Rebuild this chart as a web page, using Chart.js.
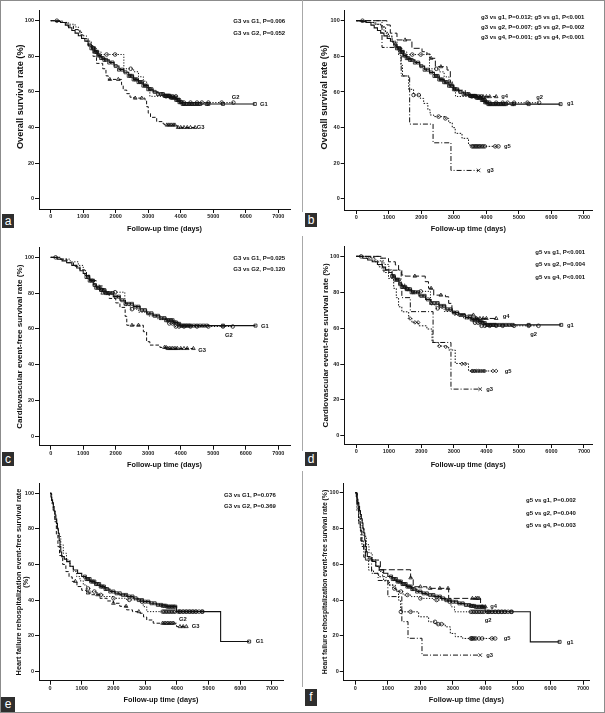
<!DOCTYPE html>
<html>
<head>
<meta charset="utf-8">
<script src="https://cdn.jsdelivr.net/npm/chart.js@4.4.1/dist/chart.umd.min.js"></script>
<style>
  body { margin: 0; background: #fff; }
  #fig { position: relative; width: 605px; height: 713px; overflow: hidden; }
  .pnl { position: absolute; }
  .pnl canvas { position: absolute; left: 0; top: 0; }
  .frame { position: absolute; left: 0; top: 0; width: 603px; height: 711px; border: 1px solid #8c8c8c; }
  .vline { position: absolute; left: 302px; width: 1px; background: #a8a8a8; }
  .tag { position: absolute; background: #2e2e2e; color: #fff; text-align: center;
         font: 12px 'Liberation Sans', Arial, sans-serif; }
</style>
</head>
<body>
<div id="fig">
  <div class="frame"></div>
  <div class="vline" style="top:0;height:212px"></div>
  <div class="vline" style="top:236px;height:215px"></div>
  <div class="vline" style="top:471px;height:216px"></div>
</div>
<script>
/* Kaplan-Meier panels a-f, Chart.js */

const xTicks = [0, 1000, 2000, 3000, 4000, 5000, 6000, 7000];
const yTicks = [0, 20, 40, 60, 80, 100];

// ---- overall survival (a, b): [days, survival %] at each event ----
const osG1 = [[0,100],[150,99.5],[300,99],[450,97.5],[550,96],[650,94.5],[750,93],[850,91.5],[950,90],[1050,88.5],[1150,86.5],[1250,84.5],[1350,82.5],[1450,80.5],[1550,79],[1650,78],[1800,76.5],[1950,74.5],[2100,72.5],[2250,71],[2400,69],[2550,67],[2700,65.5],[2850,63.5],[3000,61.5],[3150,60],[3300,58.8],[3500,57.8],[3700,56.8],[3850,55.5],[3950,54.2],[4050,53.2]];
const osG1Cens = [1200,1250,1300,1330,1360,1400,1430,1460,1500,1550,1600,1650,1700,1800,1900,2000,2100,2200,2300,2400,2450,2500,2550,2600,2650,2700,2750,2800,2850,2900,2950,3000,3050,3100,3200,3300,3400,3450,3500,3530,3560,3600,3630,3660,3700,3730,3760,3800,3830,3860,3900,3930,3960,4000,4030,4060,4100,4150,4200,4250,4300,4350,4400,4450,4500,4550,4600,4800,4850,5300,6280];
const osG2 = [[0,100],[300,99],[550,98],[750,96.5],[850,94],[950,91.5],[1100,88.5],[1250,85],[1400,82.5],[1550,81],[2250,73],[2550,71.3],[2700,68.5],[2850,66],[2950,62.5],[3050,57.5],[3900,55.5],[4000,54]];
const osG2Cens = [190,1720,1980,2460,3550,3650,3750,3850,3950,4100,4300,4500,4650,4850,5260,5620];
const osG3 = [[0,100],[350,99],[500,97],[700,95],[900,92],[1000,90],[1150,86],[1300,80],[1410,76],[1600,73],[1700,69],[1770,67],[2180,64],[2230,61],[2340,59],[2440,57],[2550,56.5],[2900,55.4],[2950,51.7],[3000,48],[3070,45.7],[3260,43.3],[3460,42],[3500,41.4],[3890,40]];
const osG3Cens = [1820,2080,2600,2800,3570,3620,3670,3720,3770,3820,3920,4000,4100,4200,4300,4440];
const osg3 = [[0,100],[790,85],[1380,69],[1640,42],[2360,31.5],[2910,16]];
const osg3Cens = [3760];
const osg4 = [[0,100],[940,97.6],[1045,93],[1250,89.2],[1710,84.5],[2020,82.6],[2170,81.3],[2270,78.9],[2430,74.2],[2790,72.3],[2890,65],[2990,61],[3350,58.3],[3660,57.4]];
const osg4Cens = [1500,2300,2600,3700,3800,3900,4000,4100,4300];
const osg5 = [[0,100],[300,99],[600,98],[790,96.6],[900,93],[990,91],[1100,88],[1200,85.4],[1300,80.7],[1370,75],[1420,69],[1610,61.5],[1760,58.3],[1970,56.4],[2070,53.6],[2200,50],[2270,47.1],[2380,46.2],[2740,45.2],[2840,42.8],[2950,40],[3040,36.8],[3250,34],[3450,30.3],[3550,29.5]];
const osg5Cens = [1760,1920,2530,2740,3560,3600,3640,3680,3720,3760,3800,3850,3900,3950,4270,4370];

// ---- cardiovascular event-free survival (c, d) ----
const cvG1 = [[0,100],[200,99],[350,98],[490,97],[650,95.5],[800,94],[900,92.5],[1000,91],[1100,89],[1200,87],[1310,84.5],[1400,83],[1515,81.7],[1700,80],[1925,78],[2130,76],[2300,74],[2540,72.4],[2750,70.5],[2950,68.7],[3150,67.3],[3360,66],[3550,64.8],[3770,63.6],[3900,62.8],[3975,61.8]];
const cvG1Cens = [1100,1150,1200,1250,1300,1350,1400,1450,1500,1550,1600,1650,1700,1750,1800,1900,2000,2100,2200,2300,2400,2500,2600,2700,2800,2900,3000,3100,3200,3300,3400,3500,3550,3600,3650,3700,3750,3800,3850,3900,3950,4000,4050,4100,4150,4200,4250,4300,4400,4500,4600,4700,4800,5300,6300];
const cvG2 = [[0,100],[300,99],[600,97.5],[850,95.5],[1000,92.5],[1100,89.5],[1200,87.5],[1350,84.5],[1500,82],[1650,80.5],[2280,73],[2450,71],[2700,69.3],[3000,67.2],[3300,65.2],[3600,63],[3800,61.3]];
const cvG2Cens = [150,1550,1980,2500,3650,3750,3850,3950,4100,4300,4500,4850,5300,5600];
const cvG3 = [[0,100],[300,99],[500,97],[700,95],[900,93],[1050,90],[1200,87],[1400,84],[1600,80],[1800,77],[2000,74.5],[2130,72],[2290,67],[2340,62],[2850,58.4],[2950,52.8],[3050,50.9],[3360,49.6],[3570,49]];
const cvG3Cens = [1600,2500,2700,3500,3550,3600,3650,3700,3750,3800,3850,3900,4000,4100,4200,4390];
const cvg3 = [[0,100],[790,92.3],[1380,84.6],[1400,77],[1660,69.2],[2360,52],[2910,26]];
const cvg3Cens = [3810];
const cvg4 = [[0,100],[690,99],[990,97],[1200,95.2],[1300,92.4],[1400,89.6],[1500,89],[2120,85.9],[2220,82.2],[2380,78.4],[2740,77.5],[2840,73.8],[2940,69.1],[3040,67.7],[3350,67.3],[3660,65.4]];
const cvg4Cens = [1800,2300,2600,3600,3700,3800,3900,4000,4300];
const cvg5 = [[0,100],[380,99.3],[550,97],[690,94.2],[850,91],[990,87.7],[1150,82.2],[1230,77],[1300,71.9],[1400,69.1],[1610,65.4],[1710,63.2],[1920,61.3],[2170,59.5],[2330,52],[2530,50],[2740,49.6],[2840,47.8],[3040,40.3],[3250,40.1],[3450,36.1]];
const cvg5Cens = [1650,1800,1900,2550,2750,3250,3350,3550,3580,3620,3650,3700,3750,3800,3850,3900,3950,4200,4300];

// ---- heart failure rehospitalization event-free survival (e, f) ----
const hfG1 = [[0,100],[30,98],[53,96.3],[80,94.5],[105,92.5],[130,90],[158,87.8],[185,85.5],[210,83.1],[235,80],[263,77.5],[290,73.5],[315,70],[340,67],[368,64.4],[450,63],[525,61.6],[630,59],[735,56.9],[870,55],[1000,53.2],[1130,51.8],[1260,50.4],[1420,49],[1575,47.6],[1730,46.2],[1890,44.8],[2050,43.8],[2205,42.9],[2420,42],[2625,41],[2780,40],[2940,39.1],[3150,38.2],[3360,37.3],[3520,36.8],[3675,36.3],[3990,33.5],[5380,16.7]];
const hfG1Cens = [1100,1150,1200,1250,1300,1350,1400,1450,1500,1550,1600,1650,1700,1750,1800,1900,2000,2100,2200,2300,2400,2500,2600,2700,2800,2900,3000,3100,3200,3300,3400,3500,3550,3600,3650,3700,3750,3800,3850,3900,3950,4100,4200,4300,4400,4500,4600,4800,6280];
const hfG2 = [[0,100],[53,94.4],[105,90],[158,85],[210,80.5],[263,75.7],[340,71],[420,66.3],[520,62.5],[630,58.8],[735,56],[840,53.2],[945,50.8],[1050,48.5],[1155,46.5],[1260,44.8],[1470,42.9],[1700,42],[2000,41],[2415,40.1],[2835,39.1],[2940,36.3],[3050,33.5]];
const hfG2Cens = [1200,1400,1600,2000,2500,2900,3550,3600,3650,3700,3750,3800,3850,3900,3950,4050,4100,4200,4300,4400,4500,4600,4700,4800];
const hfG3 = [[0,100],[50,95],[100,90],[150,84],[200,77],[250,70],[300,65],[400,60],[500,56],[600,53],[700,50.5],[850,47.6],[1000,45.5],[1150,44],[1300,43],[1575,41],[1800,39.5],[2000,38.2],[2200,36.5],[2415,34.5],[2600,33.5],[2835,32.6],[2950,30.5],[3050,28.8],[3255,27],[3990,25.1]];
const hfG3Cens = [800,1200,1500,2000,2400,2800,3550,3600,3650,3700,3750,3800,3850,3900,4100,4200,4300];
const hfg3 = [[0,100],[60,91],[110,82],[170,73],[260,64],[500,55],[700,51],[1000,42],[1430,28],[1620,18.7],[2050,9.3]];
const hfg3Cens = [3840];
const hfg4 = [[0,100],[50,94],[100,86],[150,79],[200,73],[260,68],[310,62.4],[770,57],[1700,52.5],[1780,47.5],[2200,46.6],[2870,41],[3850,36.3]];
const hfg4Cens = [1700,2000,2300,2600,2850,3600,3700,3750,3800,3900,4000];
const hfg5 = [[0,100],[50,90],[100,84],[154,79],[205,70],[307,63.3],[410,56.8],[560,55],[717,53.1],[870,50.8],[1025,48.4],[1230,45.6],[1330,40],[1393,33.5],[1947,30.7],[2254,27.9],[2459,26.6],[2766,25.1],[2920,21.4],[3074,19.6],[3300,18.6]];
const hfg5Cens = [1400,1700,2450,2550,2650,3550,3580,3600,3650,3700,3800,3900,4200,4300];

// ---- texts ----
const pTextA = ['G3 vs G1, P=0.006', 'G3 vs G2, P=0.052'];
const pTextB = ['g3 vs g1, P=0.012; g5 vs g1, P<0.001', 'g3 vs g2, P=0.007; g5 vs g2, P=0.002', 'g3 vs g4, P=0.001; g5 vs g4, P<0.001'];
const pTextC = ['G3 vs G1, P=0.025', 'G3 vs G2, P=0.120'];
const pTextD = ['g5 vs g1, P<0.001', 'g5 vs g2, P=0.004', 'g5 vs g4, P<0.001'];
const pTextE = ['G3 vs G1, P=0.076', 'G3 vs G2, P=0.369'];
const pTextF = ['g5 vs g1, P=0.002', 'g5 vs g2, P=0.040', 'g5 vs g4, P=0.003'];

// group names next to curve ends: [text, days, %]
const labelsA = [['G2',5567,56.7],['G1',6440,53.2],['G3',4491,40.1]];
const labelsB = [['g4',4457,57.4],['g2',5533,56.8],['g1',6477,53.7],['g5',4540,29.3],['g3',4018,15.9]];
const labelsC = [['G1',6469,61.2],['G2',5361,56.5],['G3',4540,47.7]];
const labelsD = [['g4',4500,66.3],['g1',6477,61.7],['g2',5349,56.7],['g5',4561,36.1],['g3',3996,25.9]];
const labelsE = [['G2',4068,29.4],['G3',4468,25.4],['G1',6486,17]];
const labelsF = [['g4',4150,36.7],['g2',3978,28.9],['g5',4562,18.4],['g1',6500,16.2],['g3',4027,8.9]];

const X_TITLE = 'Follow-up time (days)';
const OS_TITLE = '          Overall survival rate (%)';
const FONT = "'Liberation Sans', Arial, sans-serif";
const INK = '#111';

const STYLE = {
  G1: { dash: [], mark: 'rect', r: 2.1, w: 1.1 },
  G2: { dash: [1.2, 1.6], mark: 'circle', r: 1.8, w: 1 },
  G3: { dash: [3.5, 2], mark: 'triangle', r: 2.1, w: 1 },
  g3: { dash: [5, 2, 1, 2], mark: 'crossRot', r: 2.5, w: 1 },
  g4: { dash: [6, 2.5], mark: 'triangle', r: 2.1, w: 1 },
  g5: { dash: [1.5, 1.5], mark: 'circle', r: 1.8, w: 1 },
};

// box: panel rect on page; area: chart area inside panel [left,right,top,bottom]
const panels = [
  { tag: 'a', box: [0, 0, 302, 236], area: [39, 290, 10, 209], x: [-360, 7361], y: [-5.8, 106],
    yTitle: OS_TITLE, yFont: 9.2, yLh: 1.2, yCenter: 20,
    curves: [[osG1, osG1Cens, 'G1'], [osG2, osG2Cens, 'G2'], [osG3, osG3Cens, 'G3']],
    pText: pTextA, pPos: [194.3, 11, 12], labels: labelsA, tagBox: [2, 214, 12, 14] },
  { tag: 'b', box: [302, 0, 303, 236], area: [42.7, 290, 10, 210], x: [-357, 7246], y: [-6.2, 106],
    yTitle: OS_TITLE, yFont: 9.2, yLh: 1.2, yCenter: 22.7,
    curves: [[osG1, osG1Cens, 'G1'], [osG2, osG2Cens, 'G2'], [osg3, osg3Cens, 'g3'], [osg4, osg4Cens, 'g4'], [osg5, osg5Cens, 'g5']],
    pText: pTextB, pPos: [136.3, 7.3, 10.2], labels: labelsB, tagBox: [305, 213, 12, 14] },
  { tag: 'c', box: [0, 236, 302, 235], area: [39, 290, 11.7, 209.7], x: [-360, 7361], y: [-5.4, 105.4],
    yTitle: 'Cardiovascular event-free survival rate (%)', yFont: 8.1, yLh: 1.2, yCenter: 19.3,
    curves: [[cvG1, cvG1Cens, 'G1'], [cvG2, cvG2Cens, 'G2'], [cvG3, cvG3Cens, 'G3']],
    pText: pTextC, pPos: [194.3, 10.6, 10.7], labels: labelsC, tagBox: [2, 452, 12, 14] },
  { tag: 'd', box: [302, 236, 303, 235], area: [42.3, 290, 10.7, 208], x: [-369, 7246], y: [-4.6, 105.4],
    yTitle: 'Cardiovascular event-free survival rate (%)', yFont: 8.1, yLh: 1.2, yCenter: 23.3,
    curves: [[cvG1, cvG1Cens, 'G1'], [cvG2, cvG2Cens, 'G2'], [cvg3, cvg3Cens, 'g3'], [cvg4, cvg4Cens, 'g4'], [cvg5, cvg5Cens, 'g5', 'rectRot']],
    pText: pTextD, pPos: [191, 5.6, 12.5], labels: labelsD, tagBox: [305, 452, 12, 14] },
  { tag: 'e', box: [0, 471, 302, 242], area: [39, 283, 12.3, 209.7], x: [-347, 7347], y: [-5.3, 105.6],
    yTitle: ['Heart failure rehospitalization event-free survival rate', '(%)'], yFont: 7.4, yLh: 0.92, yCenter: 19.3,
    curves: [[hfG1, hfG1Cens, 'G1'], [hfG2, hfG2Cens, 'G2'], [hfG3, hfG3Cens, 'G3']],
    pText: pTextE, pPos: [185, 12.4, 11], labels: labelsE, tagBox: [1, 697, 14, 15] },
  { tag: 'f', box: [302, 471, 303, 242], area: [41.7, 287, 12.3, 209.7], x: [-357, 7184], y: [-5.0, 105.3],
    yTitle: 'Heart failure rehospitalization event-free survival rate (%)', yFont: 6.8, yLh: 1.2, yCenter: 22.7,
    curves: [[hfG1, hfG1Cens, 'G1'], [hfG2, hfG2Cens, 'G2'], [hfg3, hfg3Cens, 'g3'], [hfg4, hfg4Cens, 'g4'], [hfg5, hfg5Cens, 'g5']],
    pText: pTextF, pPos: [182.3, 17.4, 12.5], labels: labelsF, tagBox: [305, 689, 12, 17] },
];

function survAt(steps, t) {
  let s = steps[0][1];
  for (const [d, v] of steps) if (d <= t) s = v;
  return s;
}

const kmText = {
  id: 'kmText',
  afterDatasetsDraw(chart, args, opts) {
    const { ctx, chartArea, scales } = chart;
    ctx.save();
    ctx.fillStyle = INK;
    ctx.textAlign = 'left';
    ctx.textBaseline = 'middle';
    ctx.font = 'bold 6px ' + FONT;
    opts.lines.forEach((t, i) => {
      ctx.fillText(t, chartArea.left + opts.pos[0], chartArea.top + opts.pos[1] + i * opts.pos[2]);
    });
    ctx.font = 'bold 5.8px ' + FONT;
    opts.labels.forEach(([t, d, v]) => {
      ctx.fillText(t, scales.x.getPixelForValue(d), scales.y.getPixelForValue(v));
    });
    ctx.restore();
  }
};

function buildPanel(p) {
  const fig = document.getElementById('fig');
  const [bx, by, bw, bh] = p.box;
  const [L, R, T, B] = p.area;

  const div = document.createElement('div');
  div.className = 'pnl';
  div.style.left = bx + 'px';
  div.style.top = by + 'px';
  div.style.width = bw + 'px';
  div.style.height = bh + 'px';
  const canvas = document.createElement('canvas');
  canvas.width = bw;
  canvas.height = bh;
  div.appendChild(canvas);
  fig.appendChild(div);

  const tag = document.createElement('div');
  tag.className = 'tag';
  tag.textContent = p.tag;
  const [tx, ty, tw, th] = p.tagBox;
  tag.style.left = tx + 'px';
  tag.style.top = ty + 'px';
  tag.style.width = tw + 'px';
  tag.style.height = th + 'px';
  tag.style.lineHeight = th + 'px';
  fig.appendChild(tag);

  const xTitleFont = 7.3, xTitleCenter = 229;
  const padLeft = p.yCenter - p.yFont * p.yLh / 2;
  const yAxisW = L - padLeft;
  const padBottom = bh - xTitleCenter - xTitleFont * 1.2 / 2;
  const xAxisH = bh - padBottom - B;

  const datasets = [];
  p.curves.forEach(([steps, cens, key, markOverride]) => {
    const st = STYLE[key];
    const end = cens[cens.length - 1];
    const pts = steps.map(([d, v]) => ({ x: d, y: v }));
    pts.push({ x: end, y: steps[steps.length - 1][1] });
    datasets.push({
      type: 'line', data: pts, stepped: true, borderColor: INK, borderWidth: st.w,
      borderDash: st.dash, pointRadius: 0, fill: false, tension: 0
    });
    datasets.push({
      type: 'scatter', data: cens.map(t => ({ x: t, y: survAt(steps, t) })),
      pointStyle: markOverride || st.mark, pointRadius: st.r, borderWidth: 0.8,
      borderColor: INK, backgroundColor: 'rgba(0,0,0,0)', showLine: false
    });
  });

  new Chart(canvas, {
    type: 'line',
    data: { datasets },
    plugins: [kmText],
    options: {
      responsive: false,
      animation: false,
      devicePixelRatio: 1,
      layout: { padding: { left: padLeft, right: bw - R, top: T, bottom: padBottom } },
      plugins: {
        legend: { display: false },
        tooltip: { enabled: false },
        kmText: { lines: p.pText, pos: p.pPos, labels: p.labels }
      },
      scales: {
        x: {
          type: 'linear', min: p.x[0], max: p.x[1],
          afterBuildTicks: s => { s.ticks = xTicks.map(v => ({ value: v })); },
          afterFit: s => { s.height = xAxisH; },
          grid: { drawOnChartArea: false, drawTicks: true, tickLength: 4, tickColor: INK },
          border: { display: true, color: INK, width: 1 },
          ticks: { autoSkip: false, maxRotation: 0, padding: 0, color: '#222',
                   font: { family: FONT, size: 5.5, weight: 'bold' }, callback: v => String(v) },
          title: { display: true, text: X_TITLE, color: INK, padding: 0,
                   font: { family: FONT, size: xTitleFont, weight: 'bold', lineHeight: 1.2 } }
        },
        y: {
          type: 'linear', min: p.y[0], max: p.y[1],
          afterBuildTicks: s => { s.ticks = yTicks.map(v => ({ value: v })); },
          afterFit: s => { s.width = yAxisW; },
          grid: { drawOnChartArea: false, drawTicks: true, tickLength: 4, tickColor: INK },
          border: { display: true, color: INK, width: 1 },
          ticks: { autoSkip: false, padding: 1, color: '#222',
                   font: { family: FONT, size: 5.5, weight: 'bold' }, callback: v => String(v) },
          title: { display: true, text: p.yTitle, color: INK, padding: 0,
                   font: { family: FONT, size: p.yFont, weight: 'bold', lineHeight: p.yLh } }
        }
      }
    }
  });
}

panels.forEach(buildPanel);
</script>
</body>
</html>
